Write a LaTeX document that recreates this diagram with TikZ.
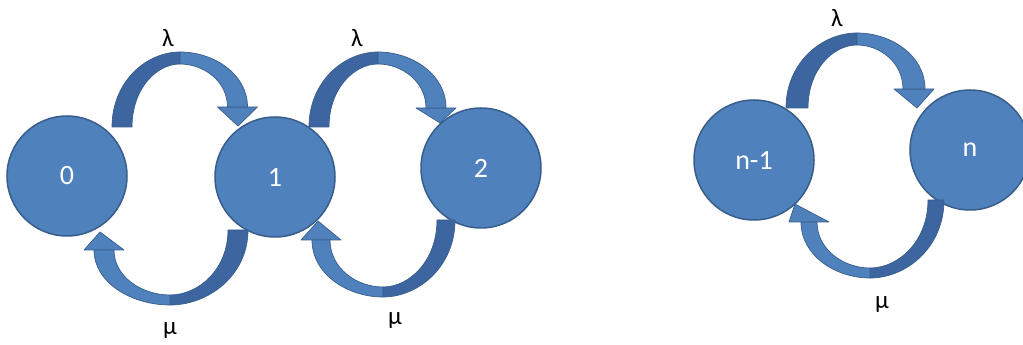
\documentclass[tikz,border=0pt]{standalone}
\usepackage{fontspec}
\newfontfamily\carlito{Carlito}
\usetikzlibrary{calc}
\definecolor{nodefill}{HTML}{4F81BD}
\definecolor{edgecol}{HTML}{385D8A}
\definecolor{arrdark}{HTML}{3D66A0}
\definecolor{arrlight}{HTML}{4F81BD}
\tikzset{
  state/.style={circle, fill=nodefill, draw=edgecol, line width=1.5pt, minimum size=120pt, inner sep=0pt, text=white, font=\carlito\fontsize{28}{32}\selectfont},
  rate/.style={font=\carlito\fontsize{25}{28}\selectfont, text=black, inner sep=0pt},
  bandd/.style={fill=arrdark, draw=edgecol, line width=0.7pt, line join=round},
  bandl/.style={fill=arrlight, draw=edgecol, line width=0.7pt, line join=round}
}
% #1 tail centre, #2 head base centre, #3 tip, #4 outer peak, #5 inner peak, #6 signed half width
\newcommand\bandarrow[6]{%
  \path[bandd] let \p1=(#1), \p4=(#4), \p5=(#5) in
    ({\x1-(#6)},\y1) .. controls ({\x1-(#6)},{\y1+0.6*(\y4-\y1)}) and ({\x4-0.5*(\x4-\x1+(#6))},\y4) .. (\x4,\y4)
    -- (\x5,\y5) .. controls ({\x5-0.5*(\x5-\x1-(#6))},\y5) and ({\x1+(#6)},{\y1+0.6*(\y5-\y1)}) .. ({\x1+(#6)},\y1) -- cycle;
  \path[bandl] let \p2=(#2) in ({\x2-20},\y2) -- ({\x2+20},\y2) -- (#3) -- cycle;
  \path[bandl] let \p2=(#2), \p4=(#4), \p5=(#5) in
    (\x4,\y4) .. controls ({\x4+0.5*(\x2+(#6)-\x4)},\y4) and ({\x2+(#6)},{\y2+0.6*(\y4-\y2)}) .. ({\x2+(#6)},\y2)
    -- ({\x2-(#6)},\y2) .. controls ({\x2-(#6)},{\y2+0.6*(\y5-\y2)}) and ({\x5+0.5*(\x2-(#6)-\x5)},\y5) .. (\x5,\y5) -- cycle;
}
\begin{document}
\begin{tikzpicture}[x=1pt,y=1pt]
\useasboundingbox (0,0) rectangle (1023,345);
\fill[white] (0,0) rectangle (1023,345);
% states
\node[state] (n0) at (67,169) {0};
\node[state] (n1) at (275,168) {1};
\node[state] (n2) at (481,177) {2};
\node[state] (nm) at (754,185) {n-1};
\node[state] (nn) at (970,195) {n};
% arrow 0 -> 1
\coordinate (a1t) at ($(n0)+(55,49)$);
\coordinate (a1b) at ($(n1)+(-37.5,70)$);
\coordinate (a1h) at ($(n1)+(-37,51)$);
\coordinate (a1o) at ($(n0)+(113,124)$);
\coordinate (a1i) at ($(n0)+(113,112)$);
\bandarrow{a1t}{a1b}{a1h}{a1o}{a1i}{10}
% arrow 1 -> 2
\coordinate (a2t) at ($(n1)+(44,50)$);
\coordinate (a2b) at ($(n2)+(-45,60)$);
\coordinate (a2h) at ($(n2)+(-41,45)$);
\coordinate (a2o) at ($(n1)+(103,125)$);
\coordinate (a2i) at ($(n1)+(103,113)$);
\bandarrow{a2t}{a2b}{a2h}{a2o}{a2i}{10}
% arrow n-1 -> n
\coordinate (a3t) at ($(nm)+(43,52)$);
\coordinate (a3b) at ($(nn)+(-56,61)$);
\coordinate (a3h) at ($(nn)+(-53,42)$);
\coordinate (a3o) at ($(nm)+(103,127)$);
\coordinate (a3i) at ($(nm)+(103,115)$);
\bandarrow{a3t}{a3b}{a3h}{a3o}{a3i}{11}
% arrow 1 -> 0
\coordinate (b1t) at ($(n1)+(-37,-53)$);
\coordinate (b1b) at ($(n0)+(37,-74)$);
\coordinate (b1h) at ($(n0)+(33,-56)$);
\coordinate (b1o) at ($(n0)+(103,-129)$);
\coordinate (b1i) at ($(n0)+(103,-119)$);
\bandarrow{b1t}{b1b}{b1h}{b1o}{b1i}{-10}
% arrow 2 -> 1
\coordinate (b2t) at ($(n2)+(-35,-52)$);
\coordinate (b2b) at ($(n1)+(46,-63)$);
\coordinate (b2h) at ($(n1)+(43,-44)$);
\coordinate (b2o) at ($(n1)+(108,-120)$);
\coordinate (b2i) at ($(n1)+(108,-110)$);
\bandarrow{b2t}{b2b}{b2h}{b2o}{b2i}{-9}
% arrow n -> n-1
\coordinate (b3t) at ($(nn)+(-34,-50)$);
\coordinate (b3b) at ($(nm)+(55,-62)$);
\coordinate (b3h) at ($(nm)+(41,-44)$);
\coordinate (b3o) at ($(nm)+(116,-118)$);
\coordinate (b3i) at ($(nm)+(116,-108)$);
\bandarrow{b3t}{b3b}{b3h}{b3o}{b3i}{-8}
% rates
\node[rate] (l1) at (168,307) {λ};
\node[rate] (l2) at (357,307) {λ};
\node[rate] (l3) at (837,327) {λ};
\node[rate] (m1) at (170,14) {μ};
\node[rate] (m2) at (395,24) {μ};
\node[rate] (m3) at (882,40) {μ};
\end{tikzpicture}
\end{document}
